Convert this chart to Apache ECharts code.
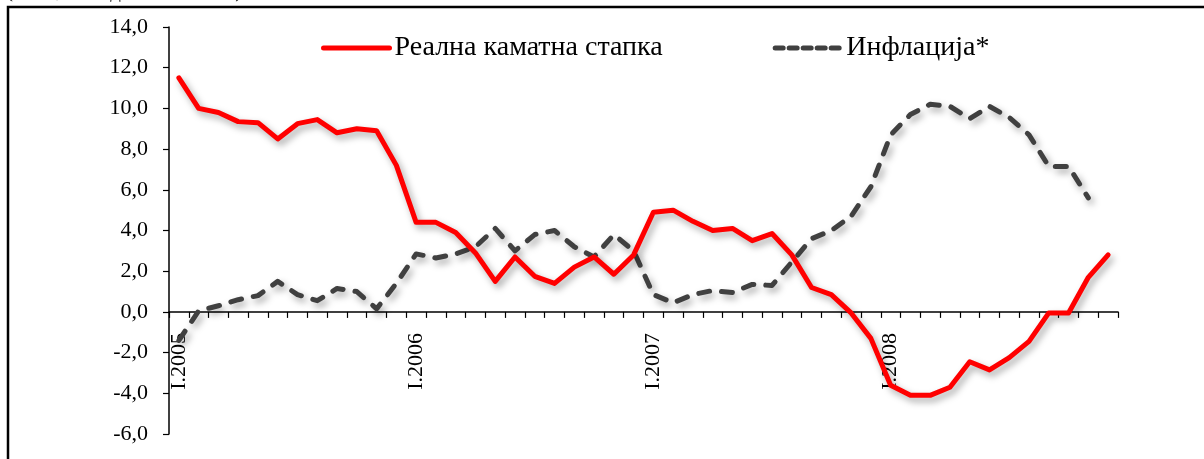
<!DOCTYPE html>
<html>
<head>
<meta charset="utf-8">
<script src="https://cdn.jsdelivr.net/npm/echarts@6/dist/echarts.min.js"></script>
<style>
  html, body { margin: 0; padding: 0; background: #fff; }
  #chart { width: 1204px; height: 459px; }
</style>
</head>
<body>
<div id="chart"></div>
<script>
// Monthly periods, January 2005 – December 2008
const romanMonths = ['I', 'II', 'III', 'IV', 'V', 'VI', 'VII', 'VIII', 'IX', 'X', 'XI', 'XII'];
const years = [2005, 2006, 2007, 2008];
const categories = [];
years.forEach(y => romanMonths.forEach(m => categories.push(m + '.' + y)));

// Real interest rate, %
const realRate = [
  11.5, 10.0, 9.8, 9.35, 9.3, 8.5, 9.25, 9.45, 8.8, 9.0, 8.9, 7.2,
  4.4, 4.4, 3.9, 2.9, 1.5, 2.7, 1.75, 1.4, 2.2, 2.7, 1.85, 2.8,
  4.9, 5.0, 4.45, 4.0, 4.1, 3.5, 3.85, 2.8, 1.2, 0.85, -0.05, -1.3,
  -3.6, -4.1, -4.1, -3.7, -2.45, -2.85, -2.25, -1.45, -0.05, -0.05, 1.7, 2.8
];

// Inflation, %
const inflation = [
  -1.4, 0.05, 0.3, 0.6, 0.8, 1.5, 0.85, 0.55, 1.15, 1.0, 0.15, 1.4,
  2.85, 2.65, 2.85, 3.2, 4.1, 3.0, 3.8, 4.0, 3.2, 2.7, 3.8, 3.0,
  0.85, 0.45, 0.85, 1.05, 0.95, 1.35, 1.3, 2.45, 3.6, 4.0, 4.7, 6.15,
  8.7, 9.7, 10.2, 10.1, 9.5, 10.1, 9.55, 8.7, 7.15, 7.15, 5.6, null
];

const seriesNames = ['Реална каматна стапка', 'Инфлација*'];
const yTicks = { min: -6, max: 14, interval: 2 };

const serif = 'Liberation Serif, Times New Roman, serif';
const gridTop = 27, gridBottom = 25, chartHeight = 459;
// place the category axis on the zero line of the value axis
const plotHeight = chartHeight - gridTop - gridBottom;
const zeroOffset = -plotHeight * (0 - yTicks.min) / (yTicks.max - yTicks.min);

const chart = echarts.init(document.getElementById('chart'), null, { renderer: 'canvas' });

chart.setOption({
  animation: false,
  backgroundColor: '#ffffff',
  textStyle: { fontFamily: serif, color: '#000' },
  graphic: [
    {
      type: 'rect',
      shape: { x: 8, y: 7, width: 1400, height: 700 },
      style: { fill: 'none', stroke: '#000', lineWidth: 2.5 },
      silent: true
    },
    {
      type: 'text',
      left: 6,
      top: -19,
      style: { text: '(во %, на годишна основа)', font: '21px ' + serif, fill: '#000' },
      silent: true
    }
  ],
  legend: {
    data: [
      { name: seriesNames[0] },
      { name: seriesNames[1], lineStyle: { type: [8, 6] } }
    ],
    left: 321,
    top: 34,
    padding: 0,
    itemGap: 110,
    itemWidth: 66,
    itemHeight: 14,
    textStyle: { fontFamily: serif, fontSize: 28, color: '#000' },
    itemStyle: { opacity: 0 },
    lineStyle: { width: 5, cap: 'round', shadowBlur: 0, shadowOffsetX: 0, shadowOffsetY: 0, shadowColor: 'transparent' }
  },
  grid: { left: 169, right: 86, top: gridTop, bottom: gridBottom, containLabel: false, outerBoundsMode: 'none' },
  xAxis: {
    type: 'category',
    data: categories,
    boundaryGap: true,
    position: 'bottom',
    offset: zeroOffset,
    axisLine: { onZero: false, lineStyle: { color: '#000', width: 1.5 } },
    axisTick: { show: true, interval: 0, inside: false, length: 6, lineStyle: { color: '#000', width: 1.2 } },
    axisLabel: {
      interval: 11,
      rotate: 90,
      margin: 21,
      fontFamily: serif,
      fontSize: 22,
      color: '#000'
    },
    splitLine: { show: false }
  },
  yAxis: {
    type: 'value',
    min: yTicks.min,
    max: yTicks.max,
    interval: yTicks.interval,
    axisLine: { show: true, lineStyle: { color: '#000', width: 1.5 } },
    axisTick: { show: true, length: 6, lineStyle: { color: '#000', width: 1.2 } },
    axisLabel: {
      margin: 21,
      fontFamily: serif,
      fontSize: 22,
      color: '#000',
      formatter: v => v.toFixed(1).replace('.', ',')
    },
    splitLine: { show: false }
  },
  series: [
    {
      name: seriesNames[0],
      type: 'line',
      data: realRate,
      symbol: 'none',
      smooth: false,
      z: 3,
      itemStyle: { color: '#ff0000' },
      lineStyle: {
        color: '#ff0000',
        width: 5,
        join: 'round',
        cap: 'round',
        shadowColor: 'rgba(0,0,0,0.35)',
        shadowBlur: 7,
        shadowOffsetX: 3,
        shadowOffsetY: 4
      }
    },
    {
      name: seriesNames[1],
      type: 'line',
      data: inflation,
      symbol: 'none',
      smooth: false,
      z: 2,
      itemStyle: { color: '#404040' },
      lineStyle: {
        color: '#404040',
        width: 5,
        type: [11, 12],
        join: 'round',
        cap: 'round',
        shadowColor: 'rgba(0,0,0,0.35)',
        shadowBlur: 7,
        shadowOffsetX: 3,
        shadowOffsetY: 4
      }
    }
  ]
});
</script>
</body>
</html>
